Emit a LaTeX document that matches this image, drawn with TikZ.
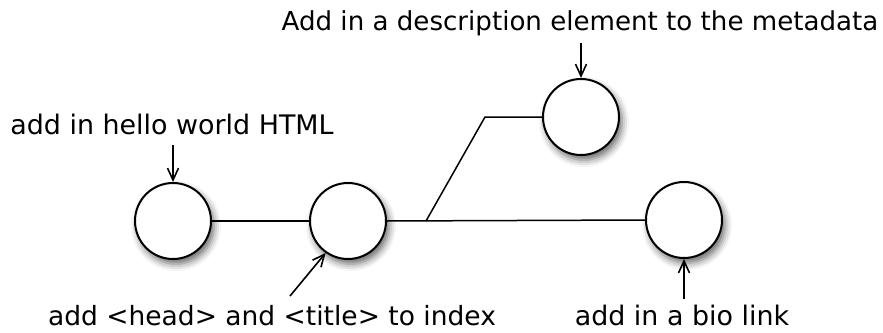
\documentclass[tikz,border=0pt]{standalone}
\usepackage{fontspec}
\setmainfont{DejaVu Sans}
\usetikzlibrary{arrows.meta,shadows.blur}
\begin{document}
\begin{tikzpicture}[x=1pt,y=-1pt,
  commit/.style={circle,draw=black,line width=2pt,fill=white,minimum size=76pt,inner sep=0pt,
    blur shadow={shadow xshift=3pt,shadow yshift=-5pt,shadow blur radius=7pt,shadow opacity=60}},
  lbl/.style={anchor=base,inner sep=0pt,font=\fontsize{#1}{30}\selectfont},
  lbl/.default=26.9,
  link/.style={line width=1.5pt},
  pointer/.style={line width=1.6pt,-{Straight Barb[length=12pt,width=11pt,line width=1.6pt]}}]
\useasboundingbox (0,0) rectangle (883,332);
\node[commit] (c1) at (173,221) {};
\node[commit] (c2) at (348,221) {};
\node[commit] (c3) at (581,117) {};
\node[commit] (c4) at (684,220) {};
\coordinate (fork) at (426,221);
\coordinate (bend) at (485,117);
\draw[link] (c1) -- (c2);
\draw[link] (c2.east) -- (c4.west);
\draw[link] (fork) -- (bend) -- (c3.west);
\node[lbl] (l1) at (172,134) {add in hello world HTML};
\node[lbl=26.1] (l3) at (580,30) {Add in a description element to the metadata};
\node[lbl=26.5] (l2) at (272,325) {add <head> and <title> to index};
\node[lbl] (l4) at (682,325) {add in a bio link};
\coordinate (a1s) at (173,145);
\coordinate (a3s) at (581,43);
\coordinate (a2s) at (290,296);
\coordinate (a4s) at (684,299);
\draw[pointer] (a1s) -- (c1.north);
\draw[pointer] (a3s) -- (c3.north);
\draw[pointer] (a2s) -- (c2.-125);
\draw[pointer] (a4s) -- (c4.south);
\end{tikzpicture}
\end{document}
